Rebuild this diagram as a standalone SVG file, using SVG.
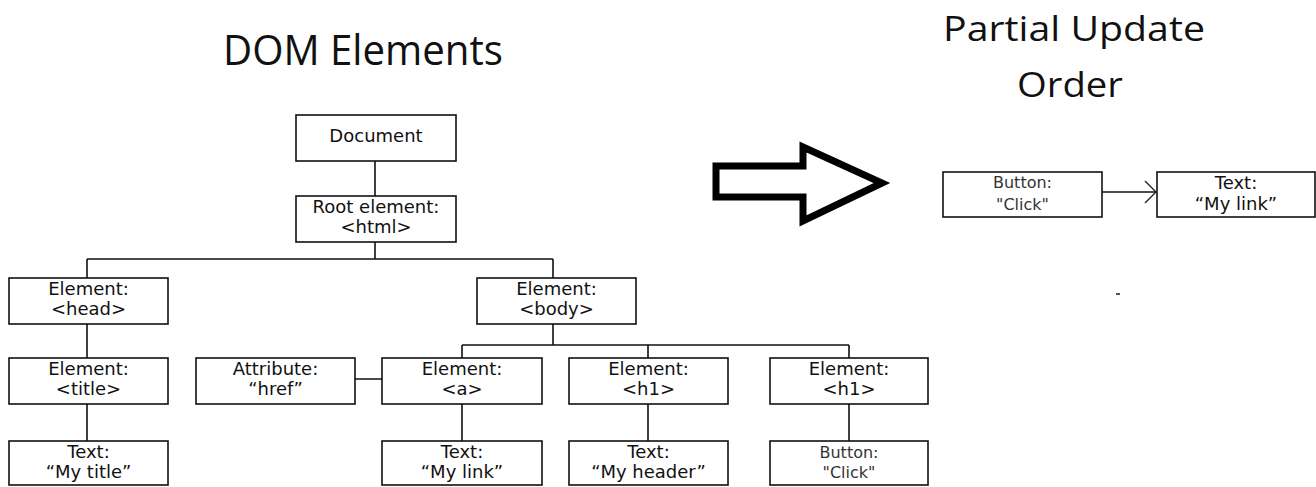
<svg xmlns="http://www.w3.org/2000/svg" width="1316" height="487" viewBox="0 0 1316 487">
<style>
.box{fill:#fff;stroke:#111;stroke-width:1.6}
.t{font-family:"DejaVu Sans",Verdana,sans-serif;font-size:18px;fill:#111;text-anchor:middle}
.s{font-family:"DejaVu Sans",Tahoma,sans-serif;font-size:16px;fill:#333;text-anchor:middle}
.title{font-family:"Open Sans","Liberation Sans",sans-serif;fill:#111;text-anchor:middle}
.ln{stroke:#111;stroke-width:1.6;fill:none}
</style>
<defs>
<marker id="open" markerWidth="14" markerHeight="24" refX="12" refY="12" orient="auto" markerUnits="userSpaceOnUse">
<path d="M1,1 L12,12 L1,23" fill="none" stroke="#222" stroke-width="1.4"/>
</marker>
</defs>
<rect width="1316" height="487" fill="#fff"/>
<text class="title" x="363" y="65" font-size="42" textLength="280" lengthAdjust="spacingAndGlyphs">DOM Elements</text>
<text class="title" x="1074" y="41" font-size="34" textLength="262" lengthAdjust="spacingAndGlyphs">Partial Update</text>
<text class="title" x="1070" y="97" font-size="34" textLength="106" lengthAdjust="spacingAndGlyphs">Order</text>
<g id="connectors">
<path class="ln" d="M375,161 V196 M375,242 V259 M87,259 H553 M87,259 V278 M553,259 V278 M87,324 V358 M87,404 V441 M553,324 V345 M462,345 H849 M462,345 V358 M648,345 V358 M849,345 V358 M462,404 V441 M648,404 V441 M849,404 V441 M355,379 H382"/>
<path class="ln" d="M1102,192 H1156" marker-end="url(#open)"/>
</g>
<g id="bigarrow">
<path d="M716,166 H803 V147 L882,183 L803,221 V197 H716 Z" fill="#fff" stroke="#000" stroke-width="7" stroke-linejoin="miter"/>
</g>
<g id="document"><rect class="box" x="296" y="115" width="160" height="46"/><text class="t" x="376" y="142">Document</text></g>
<g id="root"><rect class="box" x="296" y="196" width="160" height="46"/><text class="t" x="376" y="213">Root element:</text><text class="t" x="376" y="233">&lt;html&gt;</text></g>
<g id="head"><rect class="box" x="9" y="278" width="159" height="46"/><text class="t" x="88.5" y="295">Element:</text><text class="t" x="88.5" y="315">&lt;head&gt;</text></g>
<g id="title"><rect class="box" x="9" y="358" width="159" height="46"/><text class="t" x="88.5" y="375">Element:</text><text class="t" x="88.5" y="395">&lt;title&gt;</text></g>
<g id="text-title"><rect class="box" x="9" y="441" width="159" height="44"/><text class="t" x="88.5" y="458">Text:</text><text class="t" x="88.5" y="478">“My title”</text></g>
<g id="body"><rect class="box" x="477" y="278" width="159" height="46"/><text class="t" x="556.5" y="295">Element:</text><text class="t" x="556.5" y="315">&lt;body&gt;</text></g>
<g id="attr"><rect class="box" x="196" y="358" width="159" height="46"/><text class="t" x="275.5" y="375">Attribute:</text><text class="t" x="275.5" y="395">“href”</text></g>
<g id="a"><rect class="box" x="382" y="358" width="160" height="46"/><text class="t" x="462" y="375">Element:</text><text class="t" x="462" y="395">&lt;a&gt;</text></g>
<g id="h1a"><rect class="box" x="569" y="358" width="159" height="46"/><text class="t" x="648.5" y="375">Element:</text><text class="t" x="648.5" y="395">&lt;h1&gt;</text></g>
<g id="h1b"><rect class="box" x="770" y="358" width="158" height="46"/><text class="t" x="849" y="375">Element:</text><text class="t" x="849" y="395">&lt;h1&gt;</text></g>
<g id="text-link"><rect class="box" x="382" y="441" width="160" height="44"/><text class="t" x="462" y="458">Text:</text><text class="t" x="462" y="478">“My link”</text></g>
<g id="text-header"><rect class="box" x="569" y="441" width="159" height="44"/><text class="t" x="648.5" y="458">Text:</text><text class="t" x="648.5" y="478">“My header”</text></g>
<g id="button"><rect class="box" x="770" y="441" width="158" height="44"/><text class="s" x="849" y="458">Button:</text><text class="s" x="849" y="478">"Click"</text></g>
<g id="pu-button"><rect class="box" x="943" y="172" width="159" height="45"/><text class="s" x="1022.5" y="188">Button:</text><text class="s" x="1022.5" y="210">"Click"</text></g>
<g id="pu-text"><rect class="box" x="1157" y="172" width="158" height="45"/><text class="t" x="1236" y="189">Text:</text><text class="t" x="1236" y="210">“My link”</text></g>
<rect x="1116" y="293" width="4" height="2" fill="#555"/>
</svg>
